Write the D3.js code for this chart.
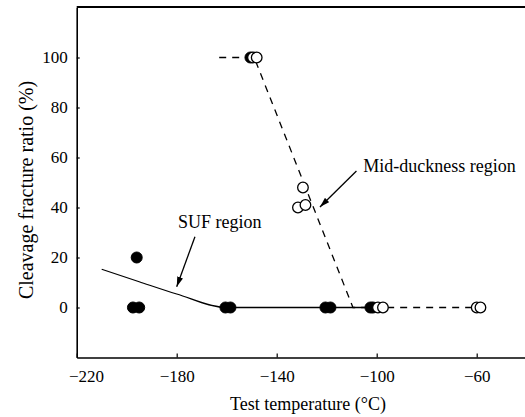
<!DOCTYPE html>
<html>
<head>
<meta charset="utf-8">
<script src="https://cdn.jsdelivr.net/npm/d3@7"></script>
<style>
  body { margin: 0; background: #fff; }
  svg, svg text { font-family: "Liberation Serif", "Times New Roman", serif; }
  svg { display: block; }
</style>
</head>
<body>
<script>
// values
const filledTemp  = [-196, -197.5, -195, -160.5, -158.5, -120.5, -118.5, -102.5, -101.5, -150.5];
const filledRatio = [20, 0, 0, 0, 0, 0, 0, 0, 0, 100];
const openTemp    = [-149.5, -148, -129.5, -131.5, -128.5, -99.5, -97.5, -60, -58.5];
const openRatio   = [100, 100, 48, 40, 41, 0, 0, 0, 0];
const sufTemp     = [-210, -195, -180, -160, -101];
const sufRatio    = [15.3, 10.3, 5.4, 0, 0];
const midTemp     = [-163, -149, -109.5, -58];
const midRatio    = [100, 100, 0, 0];
const xTicks = [-220, -180, -140, -100, -60];
const yTicks = [0, 20, 40, 60, 80, 100];

var width = 525, height = 417;
var plotLeft = 76.7, plotTop = 7.5, plotBottom = 357.5;

var x = d3.scaleLinear().domain([-220, -40]).range([plotLeft, plotLeft + 450]);
var y = d3.scaleLinear().domain([-20, 120]).range([plotBottom, plotTop]);

var svg = d3.select("body").append("svg")
  .attr("width", width)
  .attr("height", height);

// axes
var xAxis = svg.append("g")
  .attr("transform", "translate(0," + plotBottom + ")")
  .call(d3.axisBottom(x).tickValues(xTicks).tickSizeInner(-4).tickSizeOuter(0).tickPadding(12))
  .attr("font-family", null).attr("font-size", 17);
xAxis.selectAll("text")
  .filter(d => d == -220).attr("dx", "0.55em");

var yAxis = svg.append("g")
  .attr("transform", "translate(" + plotLeft + ",0)")
  .call(d3.axisLeft(y).tickValues(yTicks).tickSizeInner(-3).tickSizeOuter(0).tickPadding(9))
  .attr("font-family", null).attr("font-size", 17);

svg.selectAll(".domain").attr("stroke-width", 1.6);
svg.selectAll(".tick line").attr("stroke-width", 1.2);

// top frame line
svg.append("line")
  .attr("x1", plotLeft).attr("x2", width)
  .attr("y1", plotTop - 0.5).attr("y2", plotTop - 0.5)
  .attr("stroke", "#000").attr("stroke-width", 1.8);

// lines
var line = d3.line().x(d => x(d[0])).y(d => y(d[1]));

svg.append("path")
  .datum(d3.zip(sufTemp, sufRatio))
  .attr("d", line.curve(d3.curveMonotoneX))
  .attr("fill", "none").attr("stroke", "#000").attr("stroke-width", 1.3);

svg.append("path")
  .datum(d3.zip(midTemp, midRatio))
  .attr("d", line.curve(d3.curveLinear))
  .attr("fill", "none").attr("stroke", "#000").attr("stroke-width", 1.3)
  .attr("stroke-dasharray", "7,6");

// points
svg.append("g").selectAll("circle")
  .data(d3.zip(filledTemp, filledRatio))
  .enter().append("circle")
  .attr("cx", d => x(d[0])).attr("cy", d => y(d[1])).attr("r", 5.5)
  .attr("fill", "#000").attr("stroke", "#000");

svg.append("g").selectAll("circle")
  .data(d3.zip(openTemp, openRatio))
  .enter().append("circle")
  .attr("cx", d => x(d[0])).attr("cy", d => y(d[1])).attr("r", 5.3)
  .attr("fill", "#fff").attr("stroke", "#000").attr("stroke-width", 1.3);

// annotations
svg.append("defs").append("marker")
  .attr("id", "arrow")
  .attr("viewBox", "0 0 10 6").attr("refX", 10).attr("refY", 3)
  .attr("markerWidth", 10).attr("markerHeight", 6)
  .attr("markerUnits", "userSpaceOnUse")
  .attr("orient", "auto")
  .append("path").attr("d", "M0,0L10,3L0,6Z").attr("fill", "#000");

function note(label, tx, ty, ax1, ay1, ax2, ay2) {
  svg.append("text")
    .attr("x", x(tx)).attr("y", y(ty))
    .attr("font-size", 18)
    .text(label);
  svg.append("line")
    .attr("x1", x(ax1)).attr("y1", y(ay1))
    .attr("x2", x(ax2)).attr("y2", y(ay2))
    .attr("stroke", "#000").attr("stroke-width", 1.3)
    .attr("marker-end", "url(#arrow)");
}
note("SUF region", -179.5, 31.8, -172.7, 28.3, -180, 8.3);
note("Mid-duckness region", -105.4, 54.3, -108.1, 54.6, -122.7, 40.2);

// axis titles
svg.append("text")
  .attr("x", 308).attr("y", 410)
  .attr("text-anchor", "middle").attr("font-size", 18)
  .text("Test temperature (°C)");

svg.append("text")
  .attr("transform", "translate(33,190) rotate(-90)")
  .attr("text-anchor", "middle").attr("font-size", 20)
  .text("Cleavage fracture ratio (%)");
</script>
</body>
</html>
